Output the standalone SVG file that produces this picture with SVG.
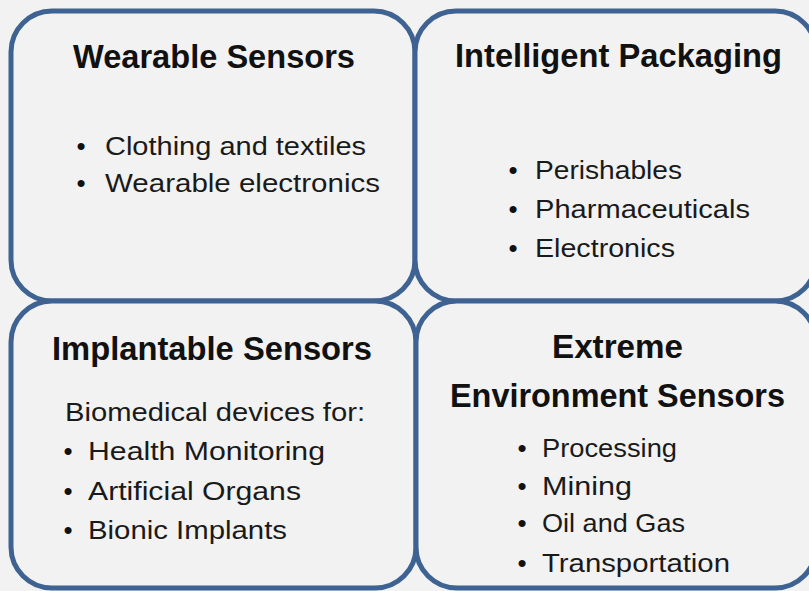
<svg xmlns="http://www.w3.org/2000/svg" width="809" height="591" viewBox="0 0 809 591">
  <style>
    .box { fill: #f2f2f2; stroke: #3e6392; stroke-width: 5; }
    .title { font-family: "Liberation Sans", Arial, sans-serif; font-weight: bold; font-size: 33px; fill: #111; }
    .item { font-family: "Liberation Sans", Arial, sans-serif; font-size: 26px; fill: #1a1a1a; }
    .dot { font-family: "Liberation Sans", Arial, sans-serif; font-size: 26px; fill: #111; text-anchor: middle; }
  </style>
  <rect x="0" y="0" width="809" height="591" fill="#f2f2f2"/>
  <g id="connectors"/>

  <!-- Wearable sensors -->
  <g id="wearable">
    <rect class="box" x="11" y="11" width="404" height="290" rx="41" ry="41"/>
    <text class="title" x="73" y="68" textLength="282" lengthAdjust="spacingAndGlyphs">Wearable Sensors</text>
    <text class="dot" x="81" y="155">•</text>
    <text class="item" x="105" y="155" textLength="261" lengthAdjust="spacingAndGlyphs">Clothing and textiles</text>
    <text class="dot" x="81" y="192">•</text>
    <text class="item" x="105" y="192" textLength="275" lengthAdjust="spacingAndGlyphs">Wearable electronics</text>
  </g>

  <!-- Intelligent packaging -->
  <g id="packaging">
    <rect class="box" x="415" y="11" width="401" height="290" rx="41" ry="41"/>
    <text class="title" x="455" y="67" textLength="327" lengthAdjust="spacingAndGlyphs">Intelligent Packaging</text>
    <text class="dot" x="513" y="179">•</text>
    <text class="item" x="535" y="179" textLength="147" lengthAdjust="spacingAndGlyphs">Perishables</text>
    <text class="dot" x="513" y="218">•</text>
    <text class="item" x="535" y="218" textLength="215" lengthAdjust="spacingAndGlyphs">Pharmaceuticals</text>
    <text class="dot" x="513" y="257">•</text>
    <text class="item" x="535" y="257" textLength="140" lengthAdjust="spacingAndGlyphs">Electronics</text>
  </g>

  <!-- Implantable sensors -->
  <g id="implantable">
    <rect class="box" x="11" y="301" width="405" height="287" rx="41" ry="41"/>
    <text class="title" x="52" y="360" textLength="320" lengthAdjust="spacingAndGlyphs">Implantable Sensors</text>
    <text class="item" x="65" y="421" textLength="300" lengthAdjust="spacingAndGlyphs">Biomedical devices for:</text>
    <text class="dot" x="68" y="460">•</text>
    <text class="item" x="88" y="460" textLength="237" lengthAdjust="spacingAndGlyphs">Health Monitoring</text>
    <text class="dot" x="68" y="500">•</text>
    <text class="item" x="88" y="500" textLength="213" lengthAdjust="spacingAndGlyphs">Artificial Organs</text>
    <text class="dot" x="68" y="539">•</text>
    <text class="item" x="88" y="539" textLength="199" lengthAdjust="spacingAndGlyphs">Bionic Implants</text>
  </g>

  <!-- Extreme environment sensors -->
  <g id="extreme">
    <rect class="box" x="416" y="301" width="400" height="287" rx="41" ry="41"/>
    <text class="title" x="552" y="358" textLength="131" lengthAdjust="spacingAndGlyphs">Extreme</text>
    <text class="title" x="450" y="407" textLength="335" lengthAdjust="spacingAndGlyphs">Environment Sensors</text>
    <text class="dot" x="522" y="457">•</text>
    <text class="item" x="542" y="457" textLength="135" lengthAdjust="spacingAndGlyphs">Processing</text>
    <text class="dot" x="522" y="495">•</text>
    <text class="item" x="542" y="495" textLength="90" lengthAdjust="spacingAndGlyphs">Mining</text>
    <text class="dot" x="522" y="532">•</text>
    <text class="item" x="542" y="532" textLength="143" lengthAdjust="spacingAndGlyphs">Oil and Gas</text>
    <text class="dot" x="522" y="572">•</text>
    <text class="item" x="542" y="572" textLength="188" lengthAdjust="spacingAndGlyphs">Transportation</text>
  </g>
</svg>
